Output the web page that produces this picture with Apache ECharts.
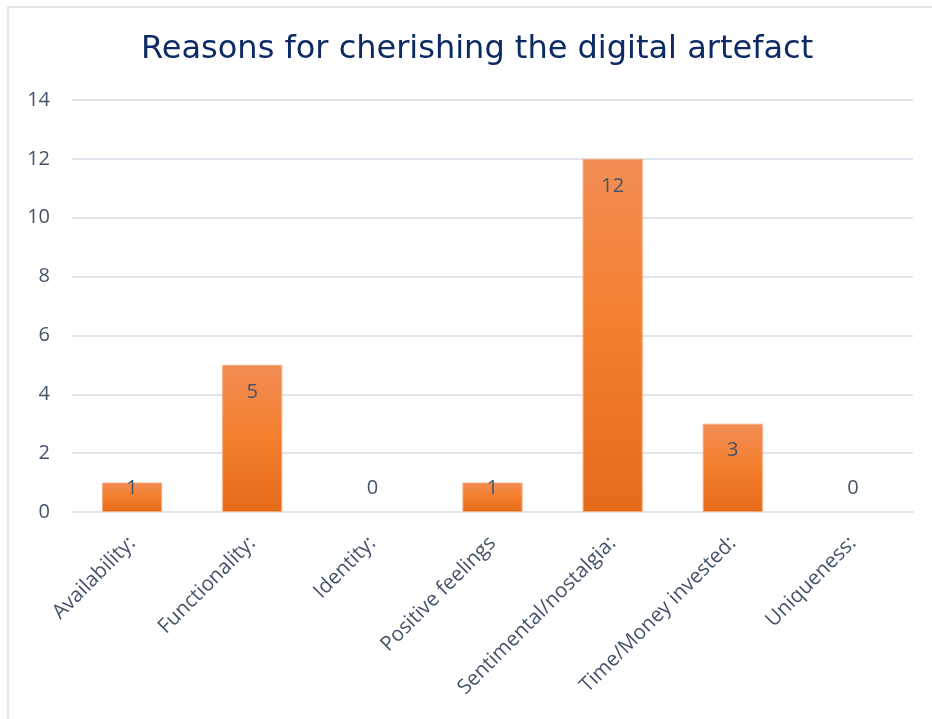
<!DOCTYPE html>
<html>
<head>
<meta charset="utf-8">
<script src="https://cdn.jsdelivr.net/npm/echarts@6/dist/echarts.min.js"></script>
<style>
  html, body { margin: 0; padding: 0; background: #fff; }
  #chart { width: 932px; height: 719px; }
</style>
</head>
<body>
<div id="chart"></div>
<script>
// Reasons given for cherishing a digital artefact (counts)
const categories = [
  'Availability:',
  'Functionality:',
  'Identity:',
  'Positive feelings',
  'Sentimental/nostalgia:',
  'Time/Money invested:',
  'Uniqueness:'
];
const counts = [1, 5, 0, 1, 12, 3, 0];
const yTicks = { min: 0, max: 14, interval: 2 };

const labelColor = '#44546A';
const labelFont = "'Open Sans', sans-serif";

// Short bars cannot hold the label at their top end, so it sits just above the baseline.
const barData = counts.map(v => ({
  value: v,
  itemStyle: v === 0 ? { borderWidth: 0 } : undefined,
  label: v < 2
    ? { position: 'insideBottom', distance: 14 }
    : { position: 'insideTop', distance: 17 }
}));

const chart = echarts.init(document.getElementById('chart'), null, { renderer: 'canvas' });
chart.setOption({
  backgroundColor: '#ffffff',
  animation: false,
  graphic: [{
    type: 'rect',
    shape: { x: 8, y: 7, width: 1200, height: 1200 },
    style: { fill: 'none', stroke: '#D9DDE3', lineWidth: 1.5 },
    silent: true
  }],
  title: {
    text: 'Reasons for cherishing the digital artefact',
    left: 136,
    top: 29,
    textStyle: {
      color: '#0D2A64',
      fontFamily: "'DejaVu Sans', sans-serif",
      fontWeight: 'normal',
      fontSize: 32
    }
  },
  grid: { left: 72, right: 19, top: 100, bottom: 207, containLabel: false },
  xAxis: {
    type: 'category',
    data: categories,
    axisLine: { show: true, lineStyle: { color: '#E1E5EB', width: 2 } },
    axisTick: { show: false },
    axisLabel: {
      rotate: 45,
      interval: 0,
      margin: 28,
      color: labelColor,
      fontFamily: labelFont,
      fontSize: 20.5
    }
  },
  yAxis: {
    type: 'value',
    min: yTicks.min,
    max: yTicks.max,
    interval: yTicks.interval,
    axisLine: { show: false },
    axisTick: { show: false },
    splitLine: { lineStyle: { color: '#E1E5EB', width: 2 } },
    axisLabel: {
      margin: 22,
      color: labelColor,
      fontFamily: labelFont,
      fontSize: 20
    }
  },
  series: [{
    type: 'bar',
    data: barData,
    barWidth: '50%',
    itemStyle: {
      color: new echarts.graphic.LinearGradient(0, 0, 0, 1, [
        { offset: 0, color: '#F28D55' },
        { offset: 0.5, color: '#F47E2C' },
        { offset: 1, color: '#E46B1A' }
      ]),
      borderColor: '#F6A77A',
      borderWidth: 1
    },
    label: {
      show: true,
      color: labelColor,
      fontFamily: labelFont,
      fontSize: 20
    }
  }]
});
</script>
</body>
</html>
